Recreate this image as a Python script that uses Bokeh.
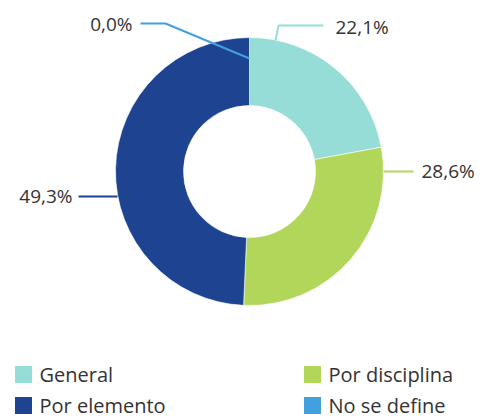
import numpy as np
from bokeh.plotting import figure
from bokeh.models import Range1d, ColumnDataSource
from bokeh.core.properties import value
from bokeh.embed import file_html
from bokeh.resources import INLINE

# ---- data ----
categories = ["General", "Por disciplina", "Por elemento", "No se define"]
shares = [22.1, 28.6, 49.3, 0.0]
labels = ["22,1%", "28,6%", "49,3%", "0,0%"]
colors = ["#95ddd6", "#b1d65a", "#1e4391", "#449fe0"]

# ---- layout (page pixel coords; y measured from top) ----
W, H = 485, 419
cx, cy = 249, 171
r_out, r_in = 134, 66
FONT = "Open Sans"
TXT = "#333333"

def Y(py):
    return H - py

p = figure(width=W, height=H, output_backend="svg", toolbar_location=None,
           x_range=Range1d(0, W), y_range=Range1d(0, H),
           min_border=0)
p.axis.visible = False
p.grid.visible = False
p.outline_line_color = None
p.background_fill_color = "white"

frac = np.array(shares) / sum(shares)
ends = np.cumsum(frac) * 2 * np.pi
starts = ends - frac * 2 * np.pi
keep = frac > 0
src = ColumnDataSource(dict(cat=np.array(categories)[keep].tolist(),
                            color=np.array(colors)[keep].tolist(),
                            start=(np.pi / 2 - starts)[keep],
                            end=(np.pi / 2 - ends)[keep]))
p.annular_wedge(x=cx, y=Y(cy), inner_radius=r_in, outer_radius=r_out,
                start_angle="start", end_angle="end", direction="clock",
                fill_color="color", line_color="white", line_width=0.6, source=src)

# leader lines + labels (positions are layout)
leaders = [
    ([275, 278, 323], [40, 25, 25], 335, 26, "left"),
    ([383, 413], [171, 171], 421, 170, "left"),
    ([117, 78], [196, 196], 72, 195, "right"),
    ([249, 165, 140], [58, 23, 23], 132, 23, "right"),
]
for i, (lx, ly, tx, ty, al) in enumerate(leaders):
    p.line(lx, [Y(v) for v in ly], line_color=colors[i], line_width=2)
    p.text(x=[tx], y=[Y(ty)], text=[labels[i]], text_align=al,
           text_baseline="middle", text_font=value(FONT),
           text_font_size="19px", text_color=TXT)

# legend
leg = [(23, 374), (312, 374), (23, 405), (312, 405)]
for i, (lx, ly) in enumerate(leg):
    p.scatter([lx], [Y(ly)], marker="square", size=17, fill_color=colors[i],
              line_color=None)
    p.text(x=[lx + 16], y=[Y(ly)], text=[categories[i]], text_align="left",
           text_baseline="middle", text_font=value(FONT),
           text_font_size="20px", text_color=TXT)

open("out.html", "w").write(file_html(p, INLINE))
